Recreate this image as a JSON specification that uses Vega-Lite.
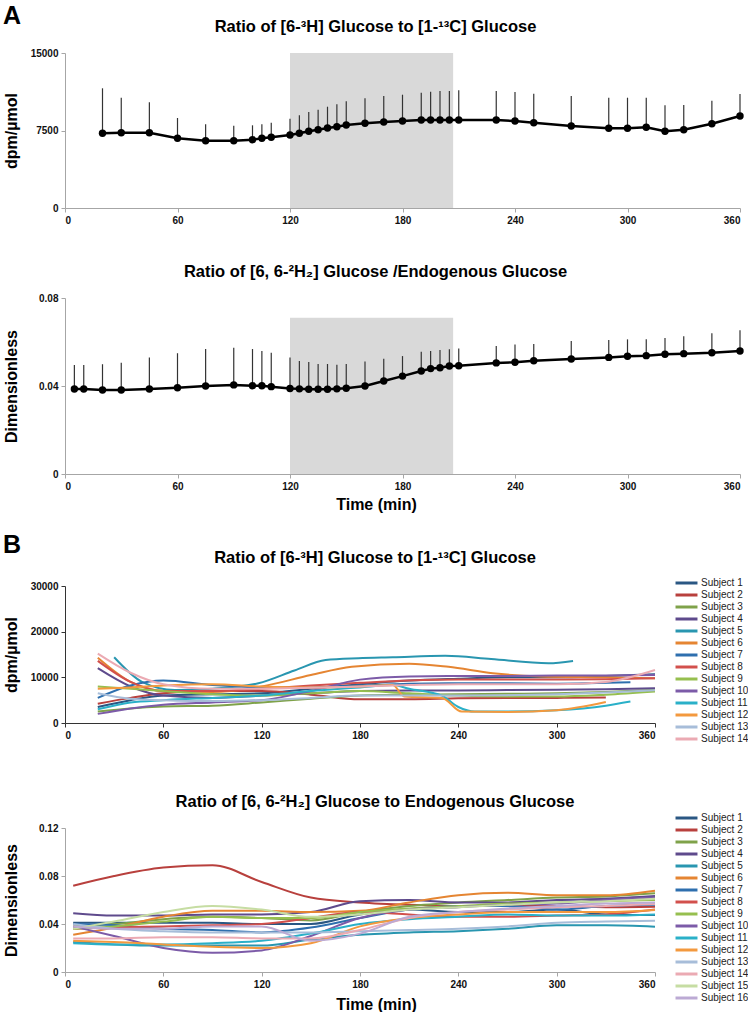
{
  "$schema": "https://vega.github.io/schema/vega-lite/v6.json",
  "background": "white",
  "padding": {"left": 2, "top": 3, "right": 0, "bottom": 0},
  "config": {
    "view": {"stroke": null},
    "font": "Liberation Sans",
    "axis": {"grid": false, "labelFont": "Liberation Sans", "labelFontWeight": "bold", "labelFontSize": 10, "labelColor": "#111", "titleFont": "Liberation Sans", "titleFontSize": 16, "titleFontWeight": "bold", "titleColor": "#000", "domainColor": "#A6A6A6", "tickColor": "#A6A6A6", "tickSize": 4, "labelPadding": 3},
    "title": {"font": "Liberation Sans", "fontSize": 16.5, "fontWeight": "bold", "color": "#000"},
    "legend": {"labelFont": "Liberation Sans", "labelFontSize": 10, "labelColor": "#222", "symbolType": "M-2.44,0L2.44,0", "symbolStrokeWidth": 3, "symbolSize": 81, "labelOffset": 8.5, "rowPadding": 0, "padding": 0, "title": null}
  },
  "spacing": 20,
  "vconcat": [
    {
      "title": {"text": "A", "fontSize": 25, "anchor": "start", "offset": -10},
      "spacing": 38,
      "vconcat": [
        {
          "width": 675, "height": 155,
          "title": {"text": "Ratio of [6-³H] Glucose to [1-¹³C] Glucose", "dx": -27, "offset": 13},
          "data": {"values": [
            {"t":20,"mean":7229,"up":11584},{"t":30,"mean":7287,"up":10674},{"t":45,"mean":7287,"up":10229},{"t":60,"mean":6745,"up":8710},{"t":75,"mean":6513,"up":8100},{"t":90,"mean":6513,"up":7964},{"t":100,"mean":6610,"up":8003},{"t":105,"mean":6745,"up":8100},{"t":110,"mean":6842,"up":8255},{"t":120,"mean":7065,"up":8642},{"t":125,"mean":7229,"up":8971},{"t":130,"mean":7423,"up":9290},{"t":135,"mean":7577,"up":9513},{"t":140,"mean":7742,"up":9803},{"t":145,"mean":7868,"up":10035},{"t":150,"mean":8032,"up":10326},{"t":160,"mean":8197,"up":10616},{"t":170,"mean":8323,"up":10839},{"t":180,"mean":8419,"up":10965},{"t":190,"mean":8516,"up":11158},{"t":195,"mean":8516,"up":11255},{"t":200,"mean":8516,"up":11323},{"t":205,"mean":8516,"up":11323},{"t":210,"mean":8516,"up":11390},{"t":230,"mean":8516,"up":11323},{"t":240,"mean":8419,"up":11226},{"t":250,"mean":8255,"up":11061},{"t":270,"mean":7935,"up":10839},{"t":290,"mean":7713,"up":10674},{"t":300,"mean":7713,"up":10674},{"t":310,"mean":7810,"up":10674},{"t":320,"mean":7423,"up":9939},{"t":330,"mean":7577,"up":9968},{"t":345,"mean":8158,"up":10384},{"t":360,"mean":8903,"up":11032}
          ]},
          "encoding": {
            "x": {"field": "t", "type": "quantitative", "scale": {"domain": [0, 360], "nice": false}, "axis": {"values": [0,60,120,180,240,300,360], "title": null}},
            "y": {"field": "mean", "type": "quantitative", "scale": {"domain": [0, 15000], "nice": false}, "axis": {"values": [0,7500,15000], "format": "d", "title": "dpm/µmol", "titleX": -46, "titleY": 77.5}}
          },
          "layer": [
            {"data": {"values": [{"t": 120, "t_end": 207, "mean": 15000}]}, "mark": {"type": "rect", "color": "#D9D9D9"}, "encoding": {"x2": {"field": "t_end"}, "y2": {"datum": 0}}},
            {"mark": {"type": "rule", "color": "#333", "strokeWidth": 1.2}, "encoding": {"y2": {"field": "up"}}},
            {"mark": {"type": "line", "color": "#000", "strokeWidth": 2.5}, "encoding": {}},
            {"mark": {"type": "point", "filled": true, "color": "#000", "size": 55, "opacity": 1}, "encoding": {}}
          ]
        },
        {
          "width": 675, "height": 176,
          "title": {"text": "Ratio of [6, 6-²H₂] Glucose /Endogenous Glucose", "dx": -27, "offset": 13},
          "data": {"values": [
            {"t":5,"mean":0.0386,"up":0.0495},{"t":10,"mean":0.0386,"up":0.0495},{"t":20,"mean":0.0382,"up":0.0499},{"t":30,"mean":0.0382,"up":0.0506},{"t":45,"mean":0.0386,"up":0.0529},{"t":60,"mean":0.0392,"up":0.0549},{"t":75,"mean":0.0400,"up":0.0568},{"t":90,"mean":0.0405,"up":0.0574},{"t":100,"mean":0.0401,"up":0.0568},{"t":105,"mean":0.0401,"up":0.0559},{"t":110,"mean":0.0397,"up":0.0551},{"t":120,"mean":0.0389,"up":0.0529},{"t":125,"mean":0.0387,"up":0.0514},{"t":130,"mean":0.0385,"up":0.0509},{"t":135,"mean":0.0385,"up":0.0500},{"t":140,"mean":0.0385,"up":0.0500},{"t":145,"mean":0.0387,"up":0.0497},{"t":150,"mean":0.0390,"up":0.0500},{"t":160,"mean":0.0400,"up":0.0511},{"t":170,"mean":0.0423,"up":0.0524},{"t":180,"mean":0.0445,"up":0.0536},{"t":190,"mean":0.0468,"up":0.0556},{"t":195,"mean":0.0479,"up":0.0559},{"t":200,"mean":0.0483,"up":0.0564},{"t":205,"mean":0.0491,"up":0.0567},{"t":210,"mean":0.0492,"up":0.0570},{"t":230,"mean":0.0505,"up":0.0582},{"t":240,"mean":0.0508,"up":0.0589},{"t":250,"mean":0.0515,"up":0.0591},{"t":270,"mean":0.0523,"up":0.0605},{"t":290,"mean":0.0530,"up":0.0609},{"t":300,"mean":0.0535,"up":0.0612},{"t":310,"mean":0.0538,"up":0.0612},{"t":320,"mean":0.0544,"up":0.0618},{"t":330,"mean":0.0547,"up":0.0626},{"t":345,"mean":0.0551,"up":0.0640},{"t":360,"mean":0.0559,"up":0.0653}
          ]},
          "encoding": {
            "x": {"field": "t", "type": "quantitative", "scale": {"domain": [0, 360], "nice": false}, "axis": {"values": [0,60,120,180,240,300,360], "title": "Time (min)", "titleX": 311, "titleY": 22, "titleBaseline": "top"}},
            "y": {"field": "mean", "type": "quantitative", "scale": {"domain": [0, 0.08], "nice": false}, "axis": {"values": [0,0.04,0.08], "labelExpr": "datum.value == 0 ? '0' : format(datum.value, '.2f')", "title": "Dimensionless", "titleX": -46, "titleY": 88}}
          },
          "layer": [
            {"data": {"values": [{"t": 120, "t_end": 207, "mean": 0.071}]}, "mark": {"type": "rect", "color": "#D9D9D9"}, "encoding": {"x2": {"field": "t_end"}, "y2": {"datum": 0}}},
            {"mark": {"type": "rule", "color": "#333", "strokeWidth": 1.2}, "encoding": {"y2": {"field": "up"}}},
            {"mark": {"type": "line", "color": "#000", "strokeWidth": 2.5}, "encoding": {}},
            {"mark": {"type": "point", "filled": true, "color": "#000", "size": 55, "opacity": 1}, "encoding": {}}
          ]
        }
      ]
    },
    {
      "title": {"text": "B", "fontSize": 25, "anchor": "start", "offset": -8},
      "spacing": 49,
      "resolve": {"scale": {"color": "independent"}, "legend": {"color": "independent"}},
      "vconcat": [
        {
          "width": 590, "height": 137,
          "title": {"text": "Ratio of [6-³H] Glucose to [1-¹³C] Glucose", "dx": 15, "offset": 11},
          "data": {"values": [
            {"s":1,"t":[20,40,60,90,120,150,180,210,240,270,300,330,360],"v":[3500,5000,6000,6300,6500,7500,8500,9300,9700,10000,10000,10300,10700]},
            {"s":2,"t":[20,40,60,90,120,150,180,210,240,270,300,330],"v":[4200,5500,6500,7000,7000,6200,5200,5200,5400,5500,5500,5600]},
            {"s":3,"t":[20,40,60,90,120,150,180,210,240,270,300,330,360],"v":[2500,3200,3600,3800,4500,5300,6000,6200,6300,6400,6500,6800,7300]},
            {"s":4,"t":[20,40,60,90,120,150,180,210,240,270,300,330,360],"v":[12000,8000,6000,5500,6000,6500,7000,7100,7100,7200,7300,7400,7600]},
            {"s":5,"t":[30,47,67,90,118,140,159,179,200,232,260,295,310],"v":[14400,9000,7200,7500,8700,11500,13800,14200,14400,14700,14000,13100,13600]},
            {"s":6,"t":[20,40,60,90,120,150,175,210,234,261,290,330,360],"v":[14300,9000,7000,6800,8000,10500,12300,13000,12300,10900,10200,10000,9800]},
            {"s":7,"t":[20,40,60,90,120,150,180,210,240,270,300,345],"v":[5500,8200,9300,8300,7800,7800,8200,8600,8700,8700,8600,8900]},
            {"s":8,"t":[20,40,60,90,120,150,180,210,240,270,300,330,360],"v":[13600,9000,7000,7000,7500,8200,8800,9300,9500,9500,9500,9600,9800]},
            {"s":9,"t":[20,40,60,90,120,150,180,210,240,270,300,330,360],"v":[8000,7500,7000,6300,6000,6500,7000,6500,6000,5800,5800,6200,6900]},
            {"s":10,"t":[20,40,60,90,120,150,180,210,240,270,300,330,360],"v":[2000,3200,4000,4500,5000,7000,9500,10200,10300,10300,10400,10400,10500]},
            {"s":11,"t":[20,40,60,90,120,150,180,200,210,230,240,250,270,300,330,345],"v":[3000,4500,5000,5500,6000,7000,7800,8300,7500,6000,3500,2500,2500,2800,3800,4700]},
            {"s":12,"t":[20,40,60,90,120,150,180,200,207,230,242,270,300,330],"v":[7500,7800,8200,8500,8000,7800,8000,8300,5800,5500,2500,2400,2800,4600]},
            {"s":13,"t":[20,40,60,90,120,150,180,210,240,270,300,330,360],"v":[6500,5300,5000,4800,5000,5500,6000,6000,6000,6100,6300,6700,7200]},
            {"s":14,"t":[20,40,60,90,120,150,180,210,240,270,300,330,360],"v":[15200,11000,8500,7500,7500,7700,8000,8300,8500,8500,8500,9000,11600]}
          ]},
          "transform": [{"flatten": ["t", "v"]}],
          "mark": {"type": "line", "interpolate": "monotone", "strokeWidth": 2},
          "encoding": {
            "x": {"field": "t", "type": "quantitative", "scale": {"domain": [0, 360], "nice": false}, "axis": {"values": [0,60,120,180,240,300,360], "title": null, "domainColor": "#333", "tickColor": "#333"}},
            "y": {"field": "v", "type": "quantitative", "scale": {"domain": [0, 30000], "nice": false}, "axis": {"values": [0,10000,20000,30000], "format": "d", "title": "dpm/µmol", "titleX": -46, "titleY": 68.5, "domainColor": "#333", "tickColor": "#333"}},
            "color": {"field": "s", "type": "nominal", "scale": {"domain": [1,2,3,4,5,6,7,8,9,10,11,12,13,14], "range": ["#2A5783","#B8403D","#7FA24A","#5E4A8C","#2996B0","#E58532","#2E6FAE","#D2504C","#96BF4F","#7C5BA8","#2AB0C8","#F3993E","#A7BDD9","#EBAAB3"]}, "legend": {"orient": "none", "legendX": 615.5, "legendY": -9, "labelExpr": "'Subject ' + datum.label"}}
          }
        },
        {
          "width": 590, "height": 144,
          "title": {"text": "Ratio of [6, 6-²H₂] Glucose to Endogenous Glucose", "dx": 15, "offset": 1.5},
          "data": {"values": [
            {"s":1,"v":[0.041,0.041,0.041,0.041,0.040,0.040,0.048,0.052,0.050,0.050,0.052,0.048,0.0475]},
            {"s":2,"v":[0.0719,0.080,0.087,0.089,0.075,0.062,0.058,0.056,0.055,0.055,0.055,0.054,0.0544]},
            {"s":3,"v":[0.038,0.040,0.044,0.046,0.045,0.043,0.050,0.055,0.058,0.060,0.062,0.063,0.0656]},
            {"s":4,"v":[0.0489,0.047,0.047,0.048,0.048,0.050,0.059,0.060,0.058,0.058,0.060,0.061,0.0633]},
            {"s":5,"v":[0.025,0.023,0.022,0.022,0.022,0.027,0.031,0.033,0.034,0.036,0.039,0.039,0.0378]},
            {"s":6,"v":[0.031,0.037,0.046,0.051,0.051,0.050,0.051,0.058,0.064,0.066,0.064,0.064,0.0678]},
            {"s":7,"v":[0.040,0.039,0.036,0.035,0.033,0.037,0.045,0.052,0.055,0.055,0.052,0.055,0.056]},
            {"s":8,"v":[0.036,0.037,0.038,0.039,0.040,0.045,0.050,0.048,0.046,0.046,0.047,0.048,0.052]},
            {"s":9,"v":[0.036,0.038,0.042,0.046,0.045,0.045,0.050,0.053,0.055,0.057,0.058,0.059,0.060]},
            {"s":10,"v":[0.038,0.030,0.020,0.016,0.018,0.030,0.045,0.052,0.054,0.056,0.057,0.060,0.062]},
            {"s":11,"v":[0.024,0.023,0.023,0.024,0.026,0.032,0.040,0.044,0.046,0.048,0.047,0.047,0.048]},
            {"s":12,"v":[0.026,0.025,0.023,0.021,0.020,0.024,0.038,0.045,0.048,0.050,0.050,0.050,0.0517]},
            {"s":13,"v":[0.040,0.036,0.034,0.033,0.033,0.033,0.034,0.035,0.036,0.038,0.041,0.042,0.0428]},
            {"s":14,"v":[0.028,0.028,0.029,0.029,0.028,0.028,0.035,0.045,0.050,0.052,0.054,0.055,0.0567]},
            {"s":15,"v":[0.036,0.042,0.050,0.055,0.052,0.046,0.048,0.052,0.054,0.056,0.058,0.059,0.061]},
            {"s":16,"v":[0.038,0.036,0.036,0.038,0.038,0.026,0.032,0.046,0.050,0.053,0.055,0.057,0.058]}
          ]},
          "transform": [{"flatten": ["v"], "as": ["v"]}, {"window": [{"op": "row_number", "as": "i"}], "groupby": ["s"]}, {"lookup": "i", "from": {"data": {"values": [{"i":1,"t":5},{"i":2,"t":30},{"i":3,"t":60},{"i":4,"t":90},{"i":5,"t":120},{"i":6,"t":150},{"i":7,"t":180},{"i":8,"t":210},{"i":9,"t":240},{"i":10,"t":270},{"i":11,"t":300},{"i":12,"t":330},{"i":13,"t":360}]}, "key": "i", "fields": ["t"]}}],
          "mark": {"type": "line", "interpolate": "monotone", "strokeWidth": 2},
          "encoding": {
            "x": {"field": "t", "type": "quantitative", "scale": {"domain": [0, 360], "nice": false}, "axis": {"values": [0,60,120,180,240,300,360], "title": "Time (min)", "titleX": 311, "titleY": 24, "titleBaseline": "top"}},
            "y": {"field": "v", "type": "quantitative", "scale": {"domain": [0, 0.12], "nice": false}, "axis": {"values": [0,0.04,0.08,0.12], "labelExpr": "datum.value == 0 ? '0' : format(datum.value, '.2f')", "title": "Dimensionless", "titleX": -46, "titleY": 72}},
            "color": {"field": "s", "type": "nominal", "scale": {"domain": [1,2,3,4,5,6,7,8,9,10,11,12,13,14,15,16], "range": ["#2A5783","#B8403D","#7FA24A","#5E4A8C","#2996B0","#E58532","#2E6FAE","#D2504C","#96BF4F","#7C5BA8","#2AB0C8","#F3993E","#A7BDD9","#EBAAB3","#C6DDA3","#BCAAD4"]}, "legend": {"orient": "none", "legendX": 615.5, "legendY": -16, "labelExpr": "'Subject ' + datum.label"}}
          }
        }
      ]
    }
  ]
}
